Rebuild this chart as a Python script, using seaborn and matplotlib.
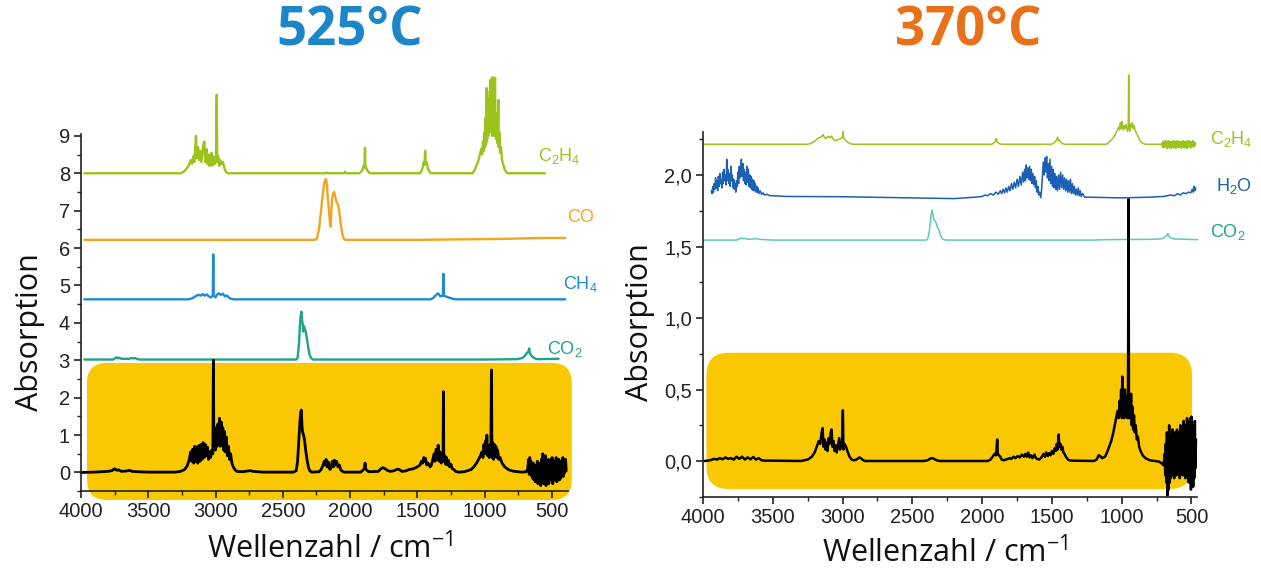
import numpy as np
import pandas as pd
import matplotlib
matplotlib.use("Agg")
import matplotlib.pyplot as plt
import seaborn as sns
from matplotlib.patches import FancyBboxPatch
from matplotlib.transforms import IdentityTransform
from matplotlib.ticker import MultipleLocator, FuncFormatter

# ---------------- DATA (wavenumber / cm-1, absorbance above own baseline) ----------------
# 525 °C panel
c2h4_525 = [(3975, 0), (3260, 0), (3240, 0.03), (3220, 0.1), (3200, 0.2), (3185, 0.35), (3175, 0.25),
            (3165, 0.45), (3158, 0.3), (3150, 0.7), (3145, 1.0), (3140, 0.4), (3130, 0.7), (3122, 0.35),
            (3115, 0.6), (3105, 0.3), (3095, 0.65), (3088, 0.8), (3083, 0.85), (3077, 0.3), (3068, 0.65),
            (3060, 0.25), (3052, 0.5), (3045, 0.2), (3038, 0.45), (3030, 0.55), (3024, 0.2), (3015, 0.45),
            (3005, 0.25), (2997, 0.35), (2991, 2.1), (2987, 0.3), (2980, 0.45), (2972, 0.2), (2965, 0.35),
            (2955, 0.25), (2945, 0.3), (2935, 0.15), (2925, 0.05), (2910, 0), (2180, 0), (2172, 0.02),
            (2165, 0), (2045, 0), (2037, 0.04), (2030, 0), (1930, 0), (1915, 0.05), (1905, 0.12),
            (1898, 0.2), (1893, 0.15), (1889, 0.68), (1886, 0.2), (1880, 0.15), (1872, 0.08), (1860, 0.02),
            (1845, 0), (1480, 0), (1470, 0.05), (1460, 0.15), (1452, 0.3), (1446, 0.22), (1442, 0.6),
            (1438, 0.25), (1432, 0.3), (1425, 0.2), (1418, 0.1), (1405, 0.02), (1395, 0), (1090, 0),
            (1075, 0.08), (1060, 0.2), (1045, 0.35), (1035, 0.5), (1025, 0.65), (1018, 0.5), (1012, 0.85),
            (1006, 0.6), (1000, 1.1), (996, 0.7), (992, 1.5), (988, 0.8), (984, 2.28), (981, 0.9),
            (977, 1.7), (973, 1.0), (969, 2.0), (965, 1.1), (961, 2.2), (958, 1.2), (955, 2.5), (952, 1.1),
            (948, 2.2), (944, 1.0), (940, 2.57), (937, 1.1), (933, 2.0), (929, 1.0), (925, 2.3),
            (922, 2.55), (919, 1.0), (915, 1.6), (911, 0.9), (907, 1.4), (903, 0.8), (898, 1.96),
            (895, 0.7), (890, 1.1), (885, 0.55), (878, 0.7), (870, 0.35), (862, 0.25), (852, 0.12),
            (840, 0.03), (830, 0), (550, 0)]

co_525 = [(3975, 0), (2260, 0), (2245, 0.05), (2230, 0.3), (2215, 0.8), (2200, 1.3), (2190, 1.55),
          (2180, 1.63), (2172, 1.5), (2165, 1.1), (2155, 0.7), (2148, 0.4), (2143, 0.35), (2140, 0.7),
          (2133, 1.1), (2125, 1.25), (2118, 1.28), (2110, 1.15), (2100, 1.0), (2090, 0.95), (2080, 0.75),
          (2070, 0.45), (2060, 0.2), (2050, 0.06), (2040, 0.01), (2030, 0), (1500, 0), (1000, 0.02),
          (800, 0.03), (600, 0.05), (400, 0.05)]

ch4_525 = [(3975, 0), (3200, 0), (3170, 0.03), (3150, 0.08), (3130, 0.12), (3110, 0.1), (3095, 0.14),
           (3080, 0.1), (3065, 0.13), (3050, 0.08), (3035, 0.05), (3020, 0.1), (3017, 1.2), (3014, 0.1),
           (3000, 0.05), (2990, 0.12), (2975, 0.16), (2960, 0.12), (2945, 0.15), (2930, 0.08),
           (2915, 0.1), (2900, 0.04), (2880, 0.01), (2860, 0), (1400, 0), (1380, 0.04), (1360, 0.12),
           (1345, 0.16), (1330, 0.08), (1310, 0.1), (1306, 0.68), (1303, 0.1), (1290, 0.08),
           (1275, 0.06), (1260, 0.04), (1240, 0.02), (1220, 0), (400, 0)]

co2_525 = [(3975, 0), (3760, 0), (3745, 0.04), (3735, 0.06), (3725, 0.03), (3715, 0.05), (3700, 0.02),
           (3640, 0.02), (3625, 0.04), (3610, 0.03), (3595, 0.04), (3580, 0.01), (3560, 0), (2400, 0),
           (2390, 0.05), (2380, 0.4), (2372, 0.95), (2366, 1.2), (2362, 1.28), (2358, 1.1), (2352, 0.95),
           (2348, 0.75), (2344, 0.9), (2338, 0.85), (2330, 0.75), (2320, 0.55), (2310, 0.3), (2300, 0.12),
           (2290, 0.04), (2275, 0), (1000, 0), (760, 0.01), (720, 0.04), (700, 0.1), (685, 0.18),
           (675, 0.2), (668, 0.3), (665, 0.18), (655, 0.12), (640, 0.06), (620, 0.02), (600, 0.01),
           (450, 0.02)]

gas_525 = [(4000, 0), (3900, 0.01), (3850, 0.02), (3800, 0.03), (3770, 0.05), (3750, 0.1), (3735, 0.06),
           (3720, 0.07), (3700, 0.03), (3660, 0.04), (3640, 0.06), (3620, 0.03), (3580, 0.02),
           (3500, 0.01), (3300, 0.01), (3260, 0.03), (3230, 0.08), (3210, 0.18), (3195, 0.35),
           (3185, 0.55), (3178, 0.3), (3170, 0.62), (3162, 0.25), (3155, 0.7), (3148, 0.3), (3140, 0.68),
           (3132, 0.25), (3124, 0.72), (3116, 0.3), (3108, 0.75), (3100, 0.35), (3092, 0.8), (3084, 0.4),
           (3076, 0.75), (3068, 0.45), (3060, 0.68), (3052, 0.35), (3044, 0.55), (3036, 0.4), (3028, 0.6),
           (3020, 0.5), (3016, 3.0), (3012, 0.6), (3006, 1.0), (3000, 0.6), (2994, 1.2), (2988, 0.7),
           (2982, 1.3), (2976, 0.8), (2970, 1.45), (2964, 0.7), (2958, 1.35), (2952, 0.75), (2946, 1.2),
           (2940, 0.6), (2934, 1.1), (2928, 0.55), (2920, 0.95), (2912, 0.45), (2904, 0.7), (2896, 0.35),
           (2888, 0.5), (2878, 0.25), (2868, 0.15), (2855, 0.07), (2840, 0.03), (2800, 0.02),
           (2760, 0.04), (2740, 0.05), (2720, 0.03), (2650, 0.01), (2420, 0.01), (2400, 0.05),
           (2390, 0.3), (2380, 0.9), (2372, 1.4), (2366, 1.62), (2362, 1.67), (2358, 1.3), (2354, 1.1),
           (2350, 1.05), (2345, 1.0), (2338, 0.85), (2330, 0.6), (2320, 0.35), (2310, 0.15), (2300, 0.05),
           (2285, 0.01), (2230, 0.02), (2215, 0.08), (2200, 0.2), (2192, 0.3), (2185, 0.2), (2178, 0.35),
           (2170, 0.15), (2162, 0.28), (2155, 0.12), (2148, 0.08), (2140, 0.15), (2132, 0.3),
           (2124, 0.15), (2116, 0.33), (2108, 0.2), (2100, 0.3), (2090, 0.15), (2080, 0.2), (2070, 0.08),
           (2060, 0.04), (2045, 0.01), (1920, 0.01), (1905, 0.06), (1895, 0.1), (1888, 0.25),
           (1884, 0.1), (1875, 0.06), (1860, 0.02), (1790, 0.03), (1770, 0.1), (1755, 0.13), (1740, 0.1),
           (1720, 0.05), (1700, 0.03), (1670, 0.05), (1650, 0.09), (1635, 0.08), (1615, 0.03),
           (1590, 0.04), (1560, 0.08), (1530, 0.1), (1500, 0.15), (1480, 0.2), (1470, 0.3), (1460, 0.25),
           (1452, 0.4), (1446, 0.3), (1440, 0.38), (1430, 0.2), (1420, 0.25), (1405, 0.15), (1395, 0.2),
           (1385, 0.35), (1375, 0.5), (1368, 0.3), (1360, 0.62), (1352, 0.35), (1345, 0.73), (1338, 0.3),
           (1330, 0.55), (1322, 0.25), (1315, 0.45), (1309, 0.3), (1306, 2.16), (1303, 0.3), (1296, 0.45),
           (1290, 0.22), (1283, 0.4), (1276, 0.2), (1268, 0.32), (1260, 0.15), (1250, 0.22), (1240, 0.1),
           (1228, 0.08), (1215, 0.03), (1195, 0.01), (1150, 0.02), (1100, 0.08), (1080, 0.15),
           (1060, 0.25), (1045, 0.35), (1030, 0.45), (1020, 0.55), (1012, 0.4), (1005, 0.75), (998, 0.5),
           (992, 0.85), (987, 0.6), (983, 1.0), (978, 0.45), (972, 0.7), (966, 0.4), (960, 0.75),
           (954, 0.45), (949, 2.74), (945, 0.4), (940, 0.8), (934, 0.35), (928, 0.75), (922, 0.45),
           (916, 0.7), (910, 0.4), (903, 0.6), (895, 0.35), (885, 0.4), (870, 0.25), (850, 0.15),
           (820, 0.07), (780, 0.03), (720, 0.01), (690, 0.02), (680, 0.1), (672, 0.35), (668, -0.05),
           (664, 0.4), (660, 0.0), (655, 0.3), (650, -0.1), (646, 0.2), (642, -0.15), (637, 0.25),
           (633, -0.2), (628, 0.15), (623, -0.25), (618, 0.2), (613, -0.1), (608, 0.3), (603, -0.3),
           (598, 0.15), (593, -0.2), (588, 0.25), (583, -0.35), (578, 0.35), (573, -0.25), (568, 0.5),
           (563, -0.3), (558, 0.4), (553, -0.2), (548, 0.45), (543, -0.35), (538, 0.3), (533, -0.15),
           (528, 0.35), (523, -0.3), (518, 0.2), (513, -0.2), (508, 0.35), (503, -0.1), (498, 0.4),
           (493, -0.3), (488, 0.25), (483, -0.2), (478, 0.3), (473, -0.15), (468, 0.4), (463, -0.25),
           (458, 0.2), (453, -0.1), (448, 0.35), (443, -0.2), (438, 0.25), (433, -0.15), (428, 0.3),
           (423, -0.05), (418, 0.4), (413, -0.1), (408, 0.3), (403, 0.0), (398, 0.35), (393, 0.05)]

# 370 °C panel
c2h4_370 = [(3990, 0), (3250, 0), (3230, 0.005), (3210, 0.015), (3190, 0.03), (3170, 0.045), (3155, 0.05),
            (3145, 0.06), (3139, 0.068), (3132, 0.05), (3120, 0.04), (3110, 0.05), (3100, 0.055),
            (3090, 0.045), (3079, 0.058), (3070, 0.04), (3060, 0.03), (3050, 0.025), (3040, 0.03),
            (3025, 0.035), (3010, 0.04), (3000, 0.05), (2996, 0.088), (2992, 0.04), (2985, 0.035),
            (2975, 0.025), (2960, 0.012), (2945, 0.004), (2925, 0), (1930, 0), (1915, 0.01), (1905, 0.02),
            (1898, 0.04), (1894, 0.015), (1885, 0.01), (1870, 0.002), (1860, 0), (1500, 0), (1485, 0.01),
            (1470, 0.025), (1460, 0.05), (1455, 0.025), (1446, 0.03), (1438, 0.015), (1425, 0.005),
            (1410, 0), (1110, 0), (1095, 0.01), (1080, 0.025), (1065, 0.04), (1050, 0.06), (1040, 0.08),
            (1030, 0.1), (1022, 0.12), (1015, 0.1), (1010, 0.15), (1004, 0.11), (998, 0.16), (993, 0.12),
            (988, 0.1), (982, 0.13), (976, 0.11), (970, 0.14), (965, 0.12), (958, 0.09), (953, 0.12),
            (950, 0.485), (947, 0.12), (942, 0.09), (937, 0.14), (930, 0.12), (924, 0.15), (918, 0.11),
            (912, 0.13), (905, 0.1), (898, 0.085), (890, 0.07), (880, 0.05), (870, 0.03), (858, 0.015),
            (845, 0.005), (830, 0), (720, 0), (712, 0.005), (708, -0.02), (704, 0.02), (700, -0.025),
            (696, 0.015), (692, -0.02), (688, 0.025), (684, -0.015), (680, 0.02), (676, -0.03),
            (672, 0.02), (668, -0.02), (664, 0.025), (660, -0.025), (656, 0.015), (652, -0.02),
            (648, 0.02), (644, -0.03), (640, 0.015), (636, -0.015), (632, 0.02), (628, -0.025),
            (624, 0.025), (620, -0.02), (616, 0.015), (612, -0.03), (608, 0.02), (604, -0.015),
            (600, 0.025), (596, -0.02), (592, 0.015), (588, -0.025), (584, 0.02), (580, -0.015),
            (576, 0.02), (572, -0.03), (568, 0.015), (564, -0.02), (560, 0.025), (556, -0.02),
            (552, 0.015), (548, -0.025), (544, 0.02), (540, -0.015), (536, 0.02), (532, -0.03),
            (528, 0.02), (524, -0.02), (520, 0.025), (516, -0.015), (512, 0.02), (508, -0.025),
            (504, 0.015), (500, -0.02), (496, 0.02), (492, -0.015), (488, 0.025), (484, -0.02),
            (480, 0.015), (476, -0.01), (472, 0.01)]

h2o_370 = [(3940, 0.05), (3935, 0.03), (3930, 0.08), (3925, 0.04), (3920, 0.1), (3915, 0.06), (3910, 0.14),
           (3905, 0.07), (3900, 0.12), (3895, 0.05), (3890, 0.15), (3885, 0.08), (3880, 0.17), (3875, 0.1),
           (3870, 0.13), (3865, 0.07), (3860, 0.18), (3855, 0.1), (3850, 0.2), (3845, 0.12), (3840, 0.16),
           (3835, 0.09), (3830, 0.27), (3825, 0.12), (3820, 0.2), (3815, 0.1), (3810, 0.17), (3805, 0.08),
           (3800, 0.22), (3795, 0.12), (3790, 0.16), (3785, 0.07), (3780, 0.13), (3775, 0.06), (3770, 0.1),
           (3765, 0.04), (3760, 0.12), (3755, 0.08), (3750, 0.18), (3745, 0.1), (3740, 0.22), (3735, 0.14),
           (3730, 0.2), (3725, 0.27), (3720, 0.15), (3715, 0.24), (3710, 0.12), (3705, 0.2), (3700, 0.1),
           (3695, 0.18), (3690, 0.09), (3685, 0.22), (3680, 0.11), (3675, 0.2), (3670, 0.08), (3665, 0.16),
           (3660, 0.07), (3655, 0.15), (3650, 0.06), (3645, 0.13), (3640, 0.05), (3635, 0.12), (3630, 0.05),
           (3625, 0.1), (3620, 0.04), (3615, 0.08), (3610, 0.04), (3605, 0.07), (3600, 0.03), (3590, 0.05),
           (3580, 0.025), (3570, 0.035), (3560, 0.02), (3540, 0.025), (3520, 0.015), (3500, 0.015),
           (3400, 0.01), (3000, 0.008), (2500, 0.0), (2200, -0.005), (2050, 0.005), (2000, 0.01),
           (1980, 0.02), (1960, 0.015), (1940, 0.03), (1920, 0.02), (1900, 0.04), (1885, 0.025),
           (1870, 0.05), (1860, 0.03), (1850, 0.06), (1840, 0.035), (1830, 0.07), (1820, 0.04),
           (1810, 0.08), (1800, 0.05), (1790, 0.1), (1780, 0.06), (1770, 0.11), (1760, 0.07), (1750, 0.13),
           (1740, 0.08), (1730, 0.15), (1720, 0.09), (1710, 0.18), (1703, 0.11), (1696, 0.2), (1690, 0.12),
           (1684, 0.23), (1678, 0.14), (1672, 0.21), (1666, 0.13), (1660, 0.22), (1654, 0.12), (1648, 0.2),
           (1642, 0.1), (1636, 0.17), (1630, 0.09), (1624, 0.15), (1618, 0.07), (1612, 0.12), (1606, 0.04),
           (1600, 0.08), (1595, 0.02), (1588, 0.04), (1580, 0.0), (1574, 0.06), (1568, 0.15), (1562, 0.25),
           (1556, 0.16), (1550, 0.28), (1544, 0.18), (1538, 0.29), (1532, 0.14), (1526, 0.24), (1520, 0.12),
           (1514, 0.27), (1508, 0.1), (1502, 0.22), (1496, 0.08), (1490, 0.2), (1484, 0.07), (1478, 0.17),
           (1472, 0.06), (1466, 0.15), (1460, 0.05), (1452, 0.16), (1445, 0.06), (1438, 0.18), (1430, 0.07),
           (1423, 0.16), (1416, 0.06), (1409, 0.14), (1402, 0.05), (1395, 0.13), (1388, 0.04), (1381, 0.12),
           (1374, 0.04), (1367, 0.13), (1360, 0.03), (1353, 0.1), (1346, 0.03), (1339, 0.08), (1332, 0.02),
           (1325, 0.06), (1318, 0.02), (1311, 0.07), (1304, 0.015), (1297, 0.05), (1290, 0.01),
           (1280, 0.03), (1265, 0.005), (1250, 0.005), (1000, 0.0), (800, 0.005), (700, 0.01),
           (650, 0.02), (620, 0.015), (600, 0.03), (580, 0.02), (560, 0.035), (540, 0.03), (520, 0.04),
           (505, 0.035), (495, 0.06), (488, 0.04), (482, 0.08), (476, 0.05), (470, 0.07)]

co2_370 = [(3990, 0), (3760, 0), (3740, 0.008), (3725, 0.015), (3715, 0.01), (3700, 0.012), (3680, 0.005),
           (3640, 0.008), (3620, 0.01), (3600, 0.006), (3560, 0.003), (3500, 0), (2400, 0), (2390, 0.01),
           (2380, 0.05), (2372, 0.12), (2365, 0.18), (2358, 0.21), (2354, 0.19), (2350, 0.16),
           (2345, 0.14), (2338, 0.135), (2330, 0.12), (2320, 0.09), (2310, 0.07), (2300, 0.04),
           (2290, 0.015), (2280, 0.005), (2260, 0), (1200, 0), (1100, 0.003), (800, 0.005), (720, 0.008),
           (700, 0.015), (685, 0.025), (675, 0.035), (669, 0.045), (665, 0.03), (655, 0.02), (640, 0.012),
           (620, 0.008), (560, 0.006), (500, 0.004), (455, 0.003)]

gas_370 = [(3990, 0), (3950, 0.005), (3920, 0.015), (3900, 0.01), (3880, 0.02), (3860, 0.012), (3840, 0.025),
           (3820, 0.015), (3800, 0.02), (3780, 0.01), (3760, 0.03), (3740, 0.015), (3720, 0.03),
           (3700, 0.01), (3680, 0.025), (3660, 0.012), (3640, 0.028), (3620, 0.01), (3600, 0.02),
           (3580, 0.005), (3560, 0.003), (3300, 0), (3250, 0.01), (3220, 0.03), (3200, 0.06), (3185, 0.1),
           (3170, 0.14), (3160, 0.12), (3150, 0.2), (3143, 0.23), (3137, 0.1), (3130, 0.15), (3122, 0.08),
           (3115, 0.13), (3108, 0.07), (3100, 0.16), (3092, 0.12), (3085, 0.2), (3079, 0.22), (3072, 0.1),
           (3065, 0.14), (3058, 0.07), (3050, 0.11), (3042, 0.06), (3035, 0.1), (3028, 0.14), (3024, 0.16),
           (3018, 0.08), (3010, 0.12), (3004, 0.1), (2998, 0.355), (2994, 0.08), (2988, 0.12),
           (2980, 0.11), (2972, 0.09), (2962, 0.06), (2950, 0.03), (2935, 0.01), (2920, 0.005),
           (2900, 0.01), (2880, 0.025), (2870, 0.02), (2855, 0.008), (2840, 0), (2420, 0), (2390, 0.005),
           (2370, 0.018), (2355, 0.02), (2340, 0.012), (2320, 0.003), (2300, 0), (1960, 0), (1940, 0.01),
           (1925, 0.03), (1910, 0.05), (1900, 0.04), (1892, 0.15), (1888, 0.05), (1880, 0.04),
           (1870, 0.03), (1860, 0.01), (1845, 0.005), (1830, 0.01), (1800, 0.02), (1790, 0.015),
           (1775, 0.03), (1760, 0.02), (1745, 0.035), (1730, 0.025), (1715, 0.045), (1700, 0.03),
           (1690, 0.05), (1680, 0.03), (1670, 0.06), (1660, 0.025), (1650, 0.04), (1640, 0.02),
           (1625, 0.045), (1615, 0.02), (1605, 0.015), (1590, 0.01), (1575, 0.025), (1560, 0.05),
           (1550, 0.03), (1540, 0.06), (1530, 0.035), (1520, 0.055), (1510, 0.04), (1500, 0.07),
           (1490, 0.05), (1480, 0.09), (1472, 0.07), (1465, 0.12), (1458, 0.08), (1452, 0.185),
           (1447, 0.1), (1440, 0.12), (1432, 0.08), (1425, 0.1), (1418, 0.06), (1410, 0.05), (1400, 0.03),
           (1385, 0.01), (1370, 0.003), (1200, 0), (1180, 0.01), (1165, 0.04), (1155, 0.035),
           (1140, 0.02), (1120, 0.03), (1105, 0.06), (1090, 0.1), (1075, 0.14), (1060, 0.2), (1050, 0.25),
           (1040, 0.3), (1030, 0.35), (1022, 0.3), (1015, 0.42), (1010, 0.35), (1004, 0.5), (999, 0.3),
           (996, 0.59), (992, 0.32), (987, 0.45), (982, 0.3), (977, 0.5), (972, 0.35), (966, 0.45),
           (960, 0.3), (955, 0.4), (951, 1.83), (948, 0.3), (943, 0.42), (938, 0.3), (933, 0.47),
           (928, 0.25), (923, 0.38), (918, 0.22), (912, 0.32), (906, 0.2), (900, 0.25), (892, 0.15),
           (884, 0.17), (875, 0.1), (865, 0.07), (850, 0.04), (830, 0.02), (800, 0.005), (760, 0),
           (730, -0.005), (710, -0.02), (700, -0.03), (692, 0.05), (688, -0.1), (684, 0.12), (680, -0.15),
           (676, 0.2), (672, -0.24), (668, 0.15), (664, -0.2), (660, 0.25), (656, -0.15), (652, 0.1),
           (648, -0.12), (644, 0.18), (640, -0.1), (636, 0.22), (632, -0.08), (628, 0.15), (624, -0.12),
           (620, 0.2), (616, -0.06), (612, 0.18), (608, -0.1), (604, 0.22), (600, -0.05), (596, 0.15),
           (592, -0.08), (588, 0.2), (584, -0.12), (580, 0.25), (576, -0.1), (572, 0.18), (568, -0.05),
           (564, 0.22), (560, -0.1), (556, 0.28), (552, -0.06), (548, 0.2), (544, -0.12), (540, 0.25),
           (536, -0.08), (532, 0.3), (528, -0.05), (524, 0.22), (520, -0.15), (516, 0.28), (512, -0.1),
           (508, 0.3), (504, -0.2), (500, 0.31), (496, -0.1), (492, 0.25), (488, -0.18), (484, 0.2),
           (480, -0.12), (476, 0.28), (472, -0.05), (468, 0.15)]

# vertical offsets used in the stacked display
offsets_525 = {"C2H4": 8.0, "CO": 6.22, "CH4": 4.63, "CO2": 3.02, "gas": 0.0}
offsets_370 = {"C2H4": 2.215, "H2O": 1.84, "CO2": 1.545, "gas": 0.0}

titles = ["525°C", "370°C"]
x_label = "Wellenzahl / cm$\\mathregular{^{-1}}$"
y_label = "Absorption"

# ---------------- STYLE ----------------
sns.set_style("ticks")
plt.rcParams['font.family'] = ['Liberation Sans', 'DejaVu Sans']
plt.rcParams['axes.linewidth'] = 1.2

COL = {"C2H4": "#9cc31c", "CO": "#f4a520", "CH4": "#1d8bd1", "CO2": "#1fa38a",
       "CO2r": "#62c6b8", "H2O": "#1b60b4", "gas": "#000000"}
YELLOW = "#f9c800"
LABEL_FONT = ['Open Sans', 'DejaVu Sans']

fig = plt.figure(figsize=(12.61, 5.74), dpi=100)
fig.patch.set_facecolor('white')
axL = fig.add_axes([0.06423, 0.14425, 0.3862, 0.6223])
axR = fig.add_axes([0.5575, 0.13458, 0.39159, 0.63528])
for ax in (axL, axR):
    ax.set_facecolor('none')


def to_df(pairs, offset):
    arr = np.array(pairs, dtype=float)
    return pd.DataFrame({"wn": arr[:, 0], "A": arr[:, 1] + offset})


def draw(ax, pairs, offset, color, lw):
    sns.lineplot(data=to_df(pairs, offset), x="wn", y="A", ax=ax, color=color,
                 linewidth=lw, estimator=None, sort=False)


def style_axes(ax, xlim, ylim, ymaj, ymin, yfmt):
    ax.set_xlim(*xlim)
    ax.set_ylim(*ylim)
    sns.despine(ax=ax)
    ax.xaxis.set_major_locator(MultipleLocator(500))
    ax.xaxis.set_minor_locator(MultipleLocator(250))
    ax.yaxis.set_major_locator(MultipleLocator(ymaj))
    ax.yaxis.set_minor_locator(MultipleLocator(ymin))
    ax.yaxis.set_major_formatter(FuncFormatter(yfmt))
    ax.tick_params(which='major', direction='out', length=5, width=1.2, labelsize=14.5,
                   colors='#222222', pad=3)
    ax.tick_params(which='minor', direction='out', length=3, width=1.0, colors='#222222')
    for s in ax.spines.values():
        s.set_color('#222222')
    ax.set_xlabel(x_label, fontsize=22, family=LABEL_FONT, color='#111111', va='center')
    ax.set_ylabel(y_label, fontsize=22, family=LABEL_FONT, color='#111111', va='center')


def rounded_box(ax, x0, x1, y0, y1, radius):
    p0 = ax.transData.transform((x0, y0))
    p1 = ax.transData.transform((x1, y1))
    xmin, xmax = sorted([p0[0], p1[0]])
    ymin, ymax = sorted([p0[1], p1[1]])
    box = FancyBboxPatch((xmin, ymin), xmax - xmin, ymax - ymin,
                         boxstyle=f"round,pad=0,rounding_size={radius}",
                         transform=IdentityTransform(), facecolor=YELLOW,
                         edgecolor='none', zorder=-5, clip_on=False)
    box.set_figure(fig)
    fig.patches.append(box)


# ---- left panel: 525 °C ----
style_axes(axL, (4000, 380), (-0.5, 9.05), 1, 0.5, lambda v, p: f"{v:.0f}")
axL.xaxis.set_label_coords(0.511, -0.162)
axL.yaxis.set_label_coords(-0.105, 0.446)
rounded_box(axL, 3955, 352, -0.735, 2.93, 20)

draw(axL, c2h4_525, offsets_525["C2H4"], COL["C2H4"], 1.7)
draw(axL, co_525, offsets_525["CO"], COL["CO"], 1.7)
draw(axL, ch4_525, offsets_525["CH4"], COL["CH4"], 1.7)
draw(axL, co2_525, offsets_525["CO2"], COL["CO2"], 1.7)
draw(axL, gas_525, offsets_525["gas"], COL["gas"], 2.0)

# ---- right panel: 370 °C ----
style_axes(axR, (4000, 462), (-0.25, 2.30), 0.5, 0.25,
           lambda v, p: f"{v:.1f}".replace('.', ','))
axR.xaxis.set_label_coords(0.49, -0.155)
axR.yaxis.set_label_coords(-0.128, 0.479)
rounded_box(axR, 3975, 497, -0.196, 0.757, 22)

draw(axR, c2h4_370, offsets_370["C2H4"], COL["C2H4"], 1.1)
draw(axR, h2o_370, offsets_370["H2O"], COL["H2O"], 1.1)
draw(axR, co2_370, offsets_370["CO2"], COL["CO2r"], 1.1)
draw(axR, gas_370, offsets_370["gas"], COL["gas"], 1.8)

for ax in (axL, axR):
    for ln in ax.lines:
        ln.set_clip_on(False)

# species labels
lab_kw = dict(ha='left', va='center', clip_on=False)
axL.text(600, 8.45, r"C$\mathregular{_2}$H$\mathregular{_4}$", color=COL["C2H4"], fontsize=13, **lab_kw)
axL.text(387, 6.83, "CO", color=COL["CO"], fontsize=13, **lab_kw)
axL.text(416, 5.05, r"CH$\mathregular{_4}$", color=COL["CH4"], fontsize=13, **lab_kw)
axL.text(535, 3.30, r"CO$\mathregular{_2}$", color=COL["CO2"], fontsize=13, **lab_kw)
axR.text(371, 2.255, r"C$\mathregular{_2}$H$\mathregular{_4}$", color=COL["C2H4"], fontsize=13, **lab_kw)
axR.text(328, 1.925, r"H$\mathregular{_2}$O", color=COL["H2O"], fontsize=13, **lab_kw)
axR.text(371, 1.60, r"CO$\mathregular{_2}$", color=COL["CO2"], fontsize=13, **lab_kw)

# panel titles
fig.text(350 / 1261, 1 - 31 / 574, titles[0], ha='center', va='center', fontsize=38,
         fontweight='bold', color='#1b86c8', family=LABEL_FONT)
fig.text(968 / 1261, 1 - 31 / 574, titles[1], ha='center', va='center', fontsize=38,
         fontweight='bold', color='#e8721c', family=LABEL_FONT)

fig.savefig("out.png", dpi=100, facecolor='white')
